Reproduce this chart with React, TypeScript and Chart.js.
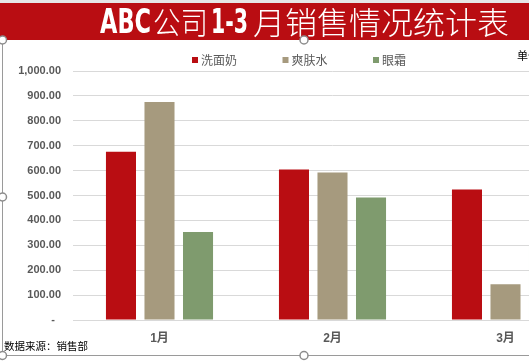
import React, { useEffect, useRef } from "react";
import { Chart, registerables } from "chart.js";

Chart.register(...registerables);

const categories = ["1月", "2月", "3月"];
const seriesNames = ["洗面奶", "爽肤水", "眼霜"];
const cleanser = [676, 604, 524];
const toner = [876, 592, 144];
const eyeCream = [353, 492, 300];
const yTicks = [0, 100, 200, 300, 400, 500, 600, 700, 800, 900, 1000];
const titleParts = ["ABC", "公司", "1-3", "月销售情况统计表"];
const sourceNote = "数据来源：销售部";
const unitNote = "单位：元";

const colors = ["#B90D12", "#A69A7E", "#7F9B6E"];
const GRAY = "#595959";
const CJK = "'Noto Sans CJK SC', 'Liberation Sans', sans-serif";

const decorPlugin = {
  id: "decor",
  beforeDraw(chart: any) {
    const ctx = chart.ctx;
    const W = chart.width;
    ctx.save();
    ctx.fillStyle = "#ffffff";
    ctx.fillRect(0, 0, W, chart.height);
    // top strip
    ctx.fillStyle = "#e6e6e6";
    ctx.fillRect(0, 0, W, 3);
    // banner
    ctx.fillStyle = "#B90D12";
    ctx.fillRect(0, 3, W, 37);
    // title segments
    const segs = [
      { t: titleParts[0], x: 100, w: 51, bold: true },
      { t: titleParts[1], x: 153, w: 55, bold: false },
      { t: titleParts[2], x: 211, w: 37, bold: true },
      { t: titleParts[3], x: 253, w: 256, bold: false },
    ];
    ctx.fillStyle = "#ffffff";
    ctx.textBaseline = "alphabetic";
    ctx.textAlign = "left";
    for (const s of segs) {
      ctx.font = s.bold
        ? "bold 33px 'Liberation Sans Narrow', 'DejaVu Sans Condensed', sans-serif"
        : "300 31px " + CJK;
      const m = ctx.measureText(s.t).width;
      ctx.save();
      ctx.translate(s.x, s.bold ? 33 : 34);
      ctx.scale(s.w / m, 1);
      ctx.fillText(s.t, 0, 0);
      ctx.restore();
    }
    ctx.restore();
  },
  afterDraw(chart: any) {
    const ctx = chart.ctx;
    ctx.save();
    // legend
    ctx.font = "12px " + CJK;
    ctx.textBaseline = "middle";
    ctx.textAlign = "left";
    chart.data.datasets.forEach((ds: any, i: number) => {
      const x = 192 + i * 90.5;
      ctx.fillStyle = ds.backgroundColor;
      ctx.fillRect(x, 57, 6, 6);
      ctx.fillStyle = GRAY;
      ctx.fillText(ds.label, x + 9, 60);
    });
    // unit note
    ctx.fillStyle = "#000";
    ctx.font = "11px " + CJK;
    ctx.fillText(unitNote, 517, 56);
    // source note
    ctx.font = "10.5px " + CJK;
    ctx.fillText(sourceNote, 4, 346);
    // frame
    ctx.strokeStyle = "#9a9a9a";
    ctx.lineWidth = 1;
    ctx.beginPath();
    ctx.moveTo(2.5, 40);
    ctx.lineTo(2.5, 355.5);
    ctx.lineTo(606, 355.5);
    ctx.stroke();
    const handles = [
      [2.5, 40],
      [304, 40],
      [2.5, 197],
      [2.5, 355.5],
      [304, 355.5],
    ];
    for (const [hx, hy] of handles) {
      ctx.beginPath();
      ctx.arc(hx, hy, 4, 0, Math.PI * 2);
      ctx.fillStyle = "#ffffff";
      ctx.fill();
      ctx.strokeStyle = "#8c8c8c";
      ctx.lineWidth = 1.5;
      ctx.stroke();
    }
    ctx.restore();
  },
};

export default function App() {
  const ref = useRef<HTMLCanvasElement | null>(null);
  useEffect(() => {
    document.body.style.margin = "0";
    const canvas = ref.current!;
    const chart = new Chart(canvas, {
      type: "bar",
      data: {
        labels: categories,
        datasets: [
          { label: seriesNames[0], data: cleanser, backgroundColor: colors[0] },
          { label: seriesNames[1], data: toner, backgroundColor: colors[1] },
          { label: seriesNames[2], data: eyeCream, backgroundColor: colors[2] },
        ],
      },
      options: {
        animation: false,
        responsive: false,
        maintainAspectRatio: false,
        layout: { padding: { top: 71, bottom: 0, left: 0, right: 18 } },
        plugins: {
          legend: { display: false },
          title: { display: false },
          tooltip: { enabled: false },
        },
        datasets: {
          bar: { categoryPercentage: 0.668, barPercentage: 0.78 },
        },
        scales: {
          x: {
            grid: { display: false, drawTicks: false },
            border: { display: true, color: "#d9d9d9", width: 1 },
            ticks: {
              color: GRAY,
              font: { family: "'Liberation Sans', 'Noto Sans CJK SC'", size: 12, weight: "bold" },
              padding: 11,
            },
            afterFit(scale: any) {
              scale.height = 44;
            },
          },
          y: {
            min: 0,
            max: 1000,
            afterBuildTicks(scale: any) {
              scale.ticks = yTicks.map((v) => ({ value: v }));
            },
            grid: { color: "#d9d9d9", lineWidth: 1, drawTicks: false },
            border: { display: false },
            ticks: {
              color: GRAY,
              font: { family: "'Liberation Sans', sans-serif", size: 11, weight: "bold" },
              padding: 12,
              callback: (v: any) =>
                Number(v) === 0
                  ? "-  "
                  : Number(v).toLocaleString("en-US", {
                      minimumFractionDigits: 2,
                      maximumFractionDigits: 2,
                    }),
            },
            afterFit(scale: any) {
              scale.width = 73;
            },
          },
        },
      },
      plugins: [decorPlugin],
    });
    return () => chart.destroy();
  }, []);
  return (
    <div style={{ width: 529, height: 364, overflow: "hidden", position: "relative" }}>
      <canvas ref={ref} width={610} height={364} style={{ display: "block" }} />
    </div>
  );
}
